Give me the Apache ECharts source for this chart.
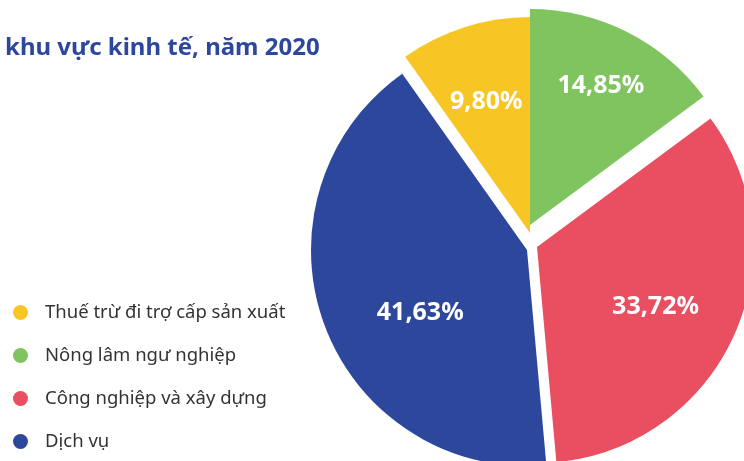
<!DOCTYPE html>
<html style="height: 100%">
<head>
    <meta charset="utf-8">
</head>
<body style="height: 100%; margin: 0; background: #fff">
    <div id="container" style="height: 100%"></div>
    <script type="text/javascript" src="https://cdn.jsdelivr.net/npm/echarts@6/dist/echarts.min.js"></script>
    <script type="text/javascript">
var categories = ['Thuế trừ đi trợ cấp sản xuất', 'Nông lâm ngư nghiệp', 'Công nghiệp và xây dựng', 'Dịch vụ'];
var shares = [9.80, 14.85, 33.72, 41.63];
var shareLabels = ['9,80%', '14,85%', '33,72%', '41,63%'];

var colors = ['#F8C624', '#80C45F', '#E94F60', '#2D479D'];
// each slice is pulled out a little differently, like the original
var centers = [[530, 233], [530, 225], [537, 247], [527, 250]];
var labelRatio = [0.65, 0.72, 0.61, 0.57];
var labelNudge = [[0, 6], [-1, 4], [-5, 4], [12, 19]];
var R = 216;

var dom = document.getElementById("container");
var myChart = echarts.init(dom);

var total = shares.reduce(function (a, b) { return a + b; }, 0);
// yellow slice ends exactly at 12 o'clock
var startAngle = 90 + shares[0] / total * 360;

var series = [];
for (var i = 0; i < categories.length; i++) {
    (function (k) {
        var data = categories.map(function (name, j) {
            var own = j === k;
            return {
                name: name,
                value: shares[j],
                itemStyle: { color: own ? colors[j] : 'rgba(0,0,0,0)' },
                label: { show: own }
            };
        });
        series.push({
            type: 'pie',
            center: centers[k],
            radius: [0, R],
            startAngle: startAngle,
            clockwise: true,
            silent: true,
            avoidLabelOverlap: false,
            data: data,
            label: {
                position: 'inside',
                color: '#fff',
                fontFamily: 'Noto Sans',
                fontWeight: 'bold',
                fontSize: 25,
                formatter: function (p) { return shareLabels[p.dataIndex]; }
            },
            labelLine: { show: false },
            labelLayout: function (p) {
                if (p.dataIndex !== k) return {};
                var lx = p.labelRect.x + p.labelRect.width / 2;
                var ly = p.labelRect.y + p.labelRect.height / 2;
                var f = 2 * labelRatio[k] - 1;
                return {
                    dx: (lx - centers[k][0]) * f + labelNudge[k][0],
                    dy: (ly - centers[k][1]) * f + labelNudge[k][1]
                };
            }
        });
    })(i);
}

var option = {
    animation: false,
    backgroundColor: '#fff',
    title: {
        text: 'khu vực kinh tế, năm 2020',
        left: 0,
        top: 31,
        textStyle: {
            color: '#2D479D',
            fontFamily: 'Noto Sans',
            fontWeight: 'bold',
            fontSize: 24
        }
    },
    legend: {
        orient: 'vertical',
        left: 8,
        top: 298,
        height: 200,
        icon: 'circle',
        itemWidth: 15,
        itemHeight: 15,
        itemGap: 24,
        selectedMode: false,
        data: categories.map(function (name, j) {
            return { name: name, itemStyle: { color: colors[j] } };
        }),
        textStyle: {
            color: '#333',
            fontFamily: 'Noto Sans',
            fontSize: 18.5,
            padding: [0, 0, 0, 12]
        }
    },
    series: series
};
myChart.setOption(option, true);
</script>
</body>
</html>
